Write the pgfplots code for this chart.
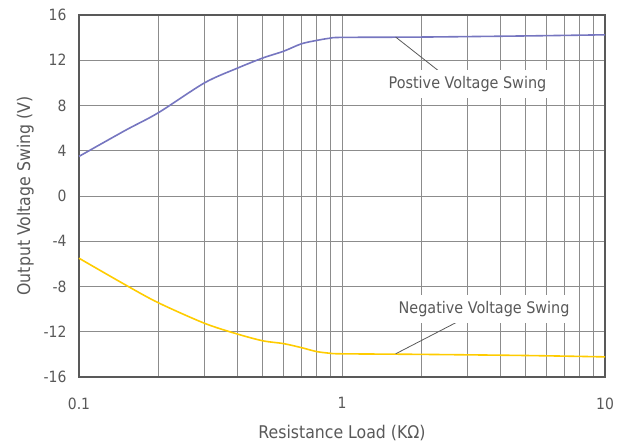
\documentclass[border=0pt]{standalone}
\usepackage{pgfplots}
\pgfplotsset{compat=1.18}
\usepackage{fontspec}
\setmainfont{DejaVu Sans Condensed}
\definecolor{txt}{RGB}{89,89,89}
\definecolor{axc}{RGB}{89,89,89}
\definecolor{gridc}{RGB}{140,140,140}
\definecolor{posc}{RGB}{118,118,192}
\definecolor{negc}{RGB}{255,204,0}
\begin{document}
\begin{tikzpicture}[x=1pt,y=1pt]
\path[use as bounding box] (0,0) rectangle (628,447);
\begin{axis}[
  at={(79pt,70pt)}, anchor=south west,
  scale only axis, width=526pt, height=362pt,
  xmode=log, xmin=0.1, xmax=10, ymin=-16, ymax=16,
  xtick={0.1,1,10}, xticklabels={0.1,1,10},
  minor xtick={0.2,0.3,0.4,0.5,0.6,0.7,0.8,0.9,2,3,4,5,6,7,8,9},
  ytick={-16,-12,-8,-4,0,4,8,12,16},
  yticklabels={-16,-12,-8,-4,0,4,8,12,16},
  major tick length=0pt, minor tick length=0pt,
  xmajorgrids, xminorgrids, ymajorgrids,
  grid style={gridc, line width=0.9pt},
  minor grid style={gridc, line width=0.9pt},
  axis line style={axc, line width=1.6pt},
  tick label style={font=\fontsize{15.5}{18}\selectfont, text=txt},
  xticklabel style={yshift=-17pt},
  yticklabel style={xshift=-9pt},
  label style={font=\fontsize{17.5}{20}\selectfont, text=txt},
  xlabel={Resistance Load (KΩ)},
  ylabel={Output Voltage Swing (V)},
  xlabel style={yshift=-9pt},
  ylabel style={yshift=3pt},
  clip=false,
]
\addplot[posc, line width=1.6pt, smooth, tension=0.5] coordinates {
(0.1,3.5) (0.15,5.8) (0.2,7.35) (0.3,10.0) (0.4,11.3) (0.5,12.2) (0.6,12.8) (0.7,13.45) (0.8,13.75) (0.9,13.95) (1,14.02) (2,14.05) (5,14.15) (10,14.25)
};
\addplot[negc, line width=1.6pt, smooth, tension=0.5] coordinates {
(0.1,-5.5) (0.15,-7.85) (0.2,-9.43) (0.3,-11.25) (0.4,-12.2) (0.5,-12.8) (0.6,-13.05) (0.7,-13.4) (0.8,-13.75) (0.9,-13.9) (1,-13.95) (2,-14.0) (5,-14.1) (10,-14.22)
};
\draw[txt, line width=0.8pt] (axis cs:1.6,14.05) -- (axis cs:2.36,10.96);
\node[fill=white, text=txt, font=\fontsize{16}{18}\selectfont, inner xsep=3pt, inner ysep=6pt] at (axis cs:3.0,9.9) {Postive Voltage Swing};
\draw[txt, line width=0.8pt] (axis cs:1.6,-13.95) -- (axis cs:2.74,-11.14);
\node[fill=white, text=txt, font=\fontsize{16}{18}\selectfont, inner xsep=3pt, inner ysep=6pt] at (axis cs:3.47,-10.0) {Negative Voltage Swing};
\end{axis}
\end{tikzpicture}
\end{document}
